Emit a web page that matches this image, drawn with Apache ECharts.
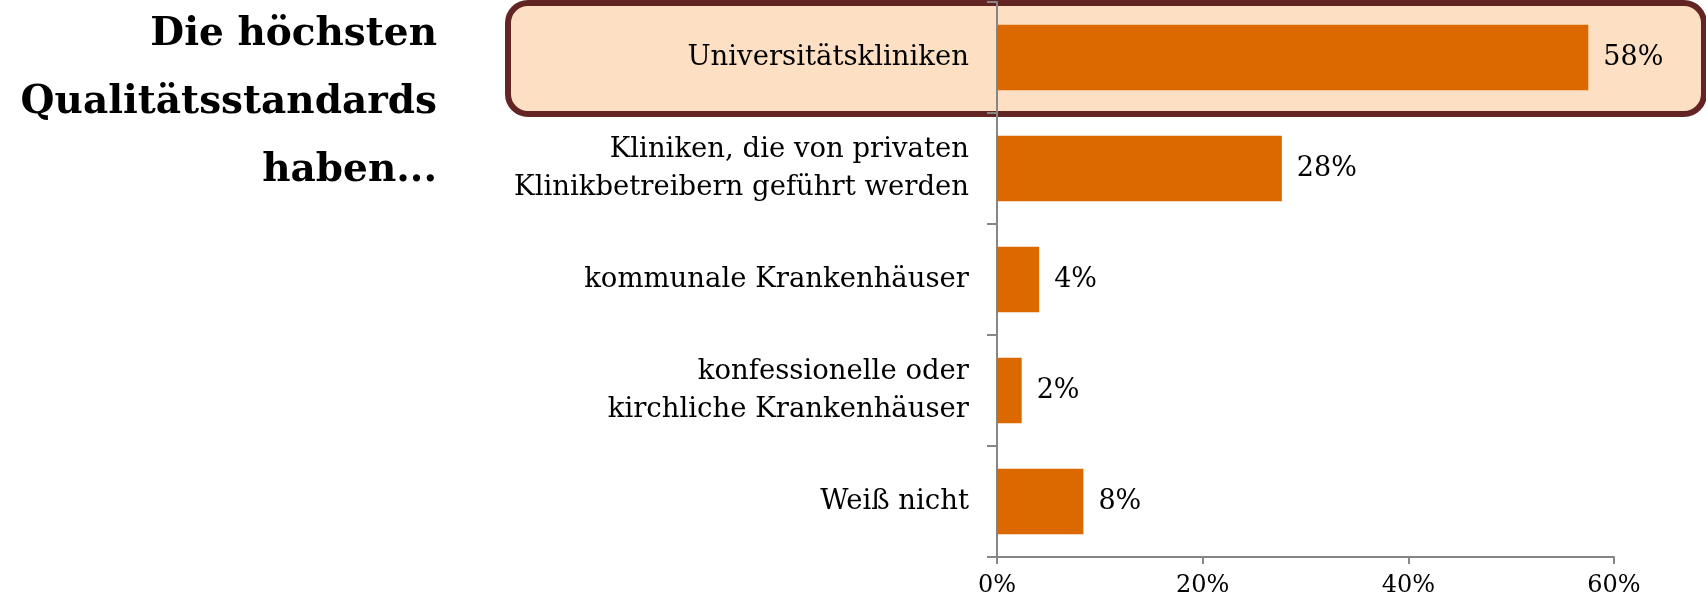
<!DOCTYPE html>
<html>
<head>
<meta charset="utf-8">
<script src="https://cdn.jsdelivr.net/npm/echarts@6/dist/echarts.min.js"></script>
<style>
  html, body { margin: 0; padding: 0; background: #fff; }
  #chart { width: 1706px; height: 603px; }
</style>
</head>
<body>
<div id="chart"></div>
<script>
var categories = [
    'Universitätskliniken',
    'Kliniken, die von privaten\nKlinikbetreibern geführt werden',
    'kommunale Krankenhäuser',
    'konfessionelle oder\nkirchliche Krankenhäuser',
    'Weiß nicht'
];
var values = [57.5, 27.7, 4.1, 2.4, 8.4];
var tickValues = [0, 20, 40, 60];

var serif = '"DejaVu Serif", "Liberation Serif", serif';

var chart = echarts.init(document.getElementById('chart'));

var options = {
    animation: false,
    grid: {
        left: 997,
        right: 92,
        top: 2,
        bottom: 46,
        containLabel: false
    },
    graphic: [{
        type: 'rect',
        z: -10,
        shape: { x: 508, y: 3, width: 1196, height: 111, r: 20 },
        style: { fill: '#fddfc4', stroke: '#632523', lineWidth: 6 }
    }, {
        type: 'text',
        x: 437,
        y: 1,
        style: {
            text: 'Die höchsten\nQualitätsstandards\nhaben...',
            textAlign: 'right',
            textVerticalAlign: 'top',
            font: 'bold 39px ' + serif,
            lineHeight: 68,
            fill: '#000'
        }
    }],
    xAxis: {
        type: 'value',
        min: tickValues[0],
        max: tickValues[tickValues.length - 1],
        interval: 20,
        splitLine: { show: false },
        axisLine: { show: true, lineStyle: { color: '#868686', width: 2 } },
        axisTick: { show: true, length: 7, lineStyle: { color: '#868686', width: 2 } },
        axisLabel: {
            formatter: '{value}%',
            margin: 17,
            color: '#000',
            fontFamily: serif,
            fontSize: 24
        }
    },
    yAxis: {
        type: 'category',
        inverse: true,
        data: categories,
        axisLine: { show: true, lineStyle: { color: '#868686', width: 2 } },
        axisTick: { show: true, length: 10, lineStyle: { color: '#868686', width: 2 } },
        axisLabel: {
            margin: 28,
            color: '#000',
            fontFamily: serif,
            fontSize: 27.5,
            lineHeight: 38,
            align: 'right'
        }
    },
    series: [{
        type: 'bar',
        data: values,
        barCategoryGap: '41%',
        itemStyle: { color: '#dc6900' },
        label: {
            show: true,
            position: 'right',
            distance: 15,
            color: '#000',
            fontFamily: serif,
            fontSize: 27,
            formatter: function (p) { return Math.round(p.value) + '%'; }
        }
    }]
};

chart.setOption(options);
</script>
</body>
</html>
